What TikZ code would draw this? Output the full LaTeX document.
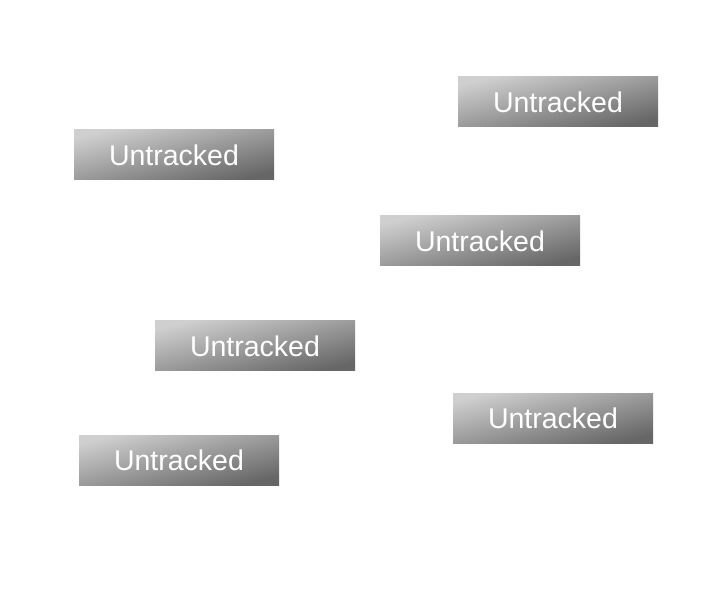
\documentclass[tikz,border=0pt]{standalone}
\usepackage{fontspec}
\setmainfont{Liberation Sans}
\begin{document}
\begin{tikzpicture}[x=1pt,y=-1pt,
   tag/.style={minimum width=200pt,minimum height=50pt,inner sep=0pt,
     top color=black!19,bottom color=black!60,shading angle=14,
     text=white,font=\fontsize{28.5}{30}\selectfont}]
   \useasboundingbox (0,0) rectangle (720,593);
   \node [tag] (track1) at (558,102) {Untracked};
   \node [tag] (track2) at (174,155) {Untracked};
   \node [tag] (track3) at (480,241) {Untracked};
   \node [tag] (track4) at (255,346) {Untracked};
   \node [tag] (track5) at (553,418) {Untracked};
   \node [tag] (track6) at (179,460) {Untracked};
  \end{tikzpicture}
\end{document}
